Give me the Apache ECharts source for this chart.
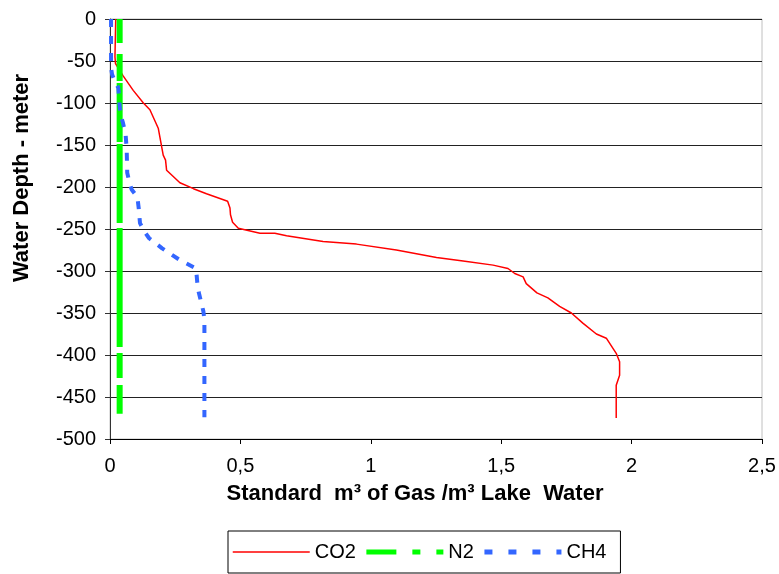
<!DOCTYPE html>
<html>
<head>
<meta charset="utf-8">
<script src="https://cdn.jsdelivr.net/npm/echarts@6/dist/echarts.min.js"></script>
<style>html,body{margin:0;padding:0;background:#fff;}#c{width:779px;height:574px;}</style>
</head>
<body>
<div id="c"></div>
<script>
// ---- data ----
const xTicks = [0, 0.5, 1, 1.5, 2, 2.5];
const yTicks = [0, -50, -100, -150, -200, -250, -300, -350, -400, -450, -500];

const co2Depth = [0, -45, -53, -68, -85, -100, -108, -130, -152, -162, -168, -180, -195, -202, -208, -217, -225, -233, -242, -249, -255, -255, -258, -265, -268, -275, -284, -288, -293, -297, -303, -307, -315, -326, -332, -342, -350, -362, -375, -380, -398, -408, -424, -436, -475];
const co2Value = [0.022, 0.019, 0.021, 0.051, 0.089, 0.128, 0.153, 0.185, 0.198, 0.204, 0.213, 0.217, 0.268, 0.320, 0.370, 0.451, 0.460, 0.462, 0.470, 0.492, 0.575, 0.632, 0.677, 0.817, 0.945, 1.098, 1.252, 1.354, 1.469, 1.526, 1.552, 1.584, 1.596, 1.637, 1.679, 1.724, 1.769, 1.813, 1.865, 1.903, 1.941, 1.954, 1.954, 1.941, 1.941];

const n2Depth = [0, -100, -200, -300, -400, -470];
const n2Value = [0.037, 0.037, 0.037, 0.037, 0.037, 0.037];

const ch4Depth = [0, -58, -66, -75, -82, -100, -113, -124, -138, -155, -183, -195, -203, -212, -225, -243, -252, -261, -273, -287, -297, -315, -325, -348, -358, -474];
const ch4Value = [0.004, 0.004, 0.008, 0.020, 0.032, 0.036, 0.040, 0.050, 0.060, 0.064, 0.066, 0.075, 0.083, 0.105, 0.110, 0.115, 0.130, 0.150, 0.200, 0.268, 0.330, 0.335, 0.340, 0.358, 0.362, 0.362];

const seriesNames = ['CO2', 'N2', 'CH4'];

function pairs(vals, depths) { return vals.map((v, i) => [v, depths[i]]); }

const FONT = '"Liberation Sans", Arial, sans-serif';
const chart = echarts.init(document.getElementById('c'), null, {renderer: 'canvas'});
chart.setOption({
  animation: false,
  backgroundColor: '#fff',
  grid: {left: 110, right: 17, top: 19, bottom: 135, show: true, borderColor: '#c0c0c0', borderWidth: 1, containLabel: false},
  xAxis: {
    type: 'value', min: xTicks[0], max: xTicks[xTicks.length - 1], interval: 0.5,
    axisLine: {show: true, onZero: false, lineStyle: {color: '#000', width: 1}},
    axisTick: {show: true, length: 5, lineStyle: {color: '#000'}},
    splitLine: {show: false},
    axisLabel: {fontSize: 20, color: '#000', fontFamily: FONT, margin: 17,
      formatter: v => String(v).replace('.', ',')}
  },
  yAxis: {
    type: 'value', min: yTicks[yTicks.length - 1], max: yTicks[0], interval: 50,
    axisLine: {show: true, onZero: false, lineStyle: {color: '#333', width: 1}},
    axisTick: {show: true, length: 5, lineStyle: {color: '#333'}},
    splitLine: {show: true, lineStyle: {color: '#222', width: 1}},
    axisLabel: {fontSize: 20, color: '#000', fontFamily: FONT, margin: 14}
  },
  legend: {
    left: 228, top: 531,
    orient: 'horizontal',
    padding: [11, 14, 11, 4],
    itemWidth: 77, itemHeight: 14, itemGap: 8,
    borderColor: '#000', borderWidth: 1,
    itemStyle: {opacity: 0},
    textStyle: {fontSize: 20, color: '#000', fontFamily: FONT},
    data: [
      {name: seriesNames[0], lineStyle: {width: 1.5, type: 'solid', color: '#ff0000'}},
      {name: seriesNames[1], lineStyle: {width: 5, type: [30, 16, 8, 16, 8, 16], color: '#00ff00'}},
      {name: seriesNames[2], lineStyle: {width: 5, type: [8, 16], color: '#3366ff'}}
    ]
  },
  graphic: [
    {type: 'text', x: 415, y: 494, style: {text: 'Standard  m³ of Gas /m³ Lake  Water', fontSize: 22, fontWeight: 'bold', fontFamily: FONT, fill: '#000', align: 'center', verticalAlign: 'middle'}},
    {type: 'text', x: 22, y: 178, rotation: Math.PI / 2, style: {text: 'Water Depth - meter', fontSize: 22, fontWeight: 'bold', fontFamily: FONT, fill: '#000', align: 'center', verticalAlign: 'middle'}}
  ],
  series: [
    {name: seriesNames[0], type: 'line', data: pairs(co2Value, co2Depth), symbol: 'none', showSymbol: false,
      lineStyle: {color: '#ff0000', width: 1.5}, itemStyle: {color: '#ff0000'}, z: 2},
    {name: seriesNames[1], type: 'line', data: pairs(n2Value, n2Depth), symbol: 'none', showSymbol: false,
      lineStyle: {color: '#00ff00', width: 6, type: [24, 11, 27, 2, 59, 2, 79, 5, 119, 6, 25, 7, 60, 1]}, itemStyle: {color: '#00ff00'}, z: 3},
    {name: seriesNames[2], type: 'line', data: pairs(ch4Value, ch4Depth), symbol: 'none', showSymbol: false,
      lineStyle: {color: '#3366ff', width: 4, type: [8, 9]}, itemStyle: {color: '#3366ff'}, z: 4}
  ]
});
</script>
</body>
</html>
